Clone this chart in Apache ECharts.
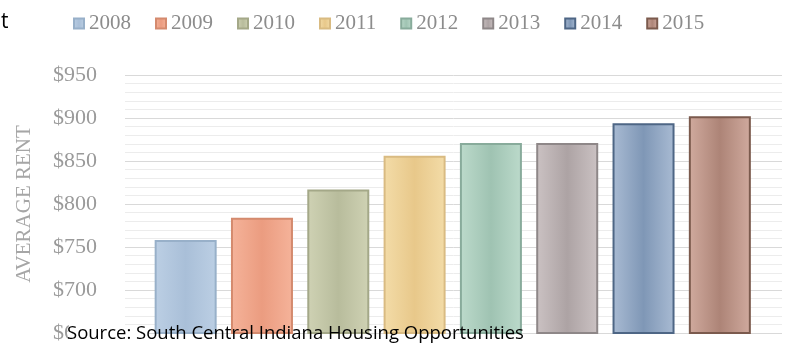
<!DOCTYPE html>
<html>
<head>
<meta charset="utf-8">
<script src="https://cdn.jsdelivr.net/npm/echarts@6/dist/echarts.min.js"></script>
<style>
html, body { margin: 0; padding: 0; background: #fff; }
#main { width: 786px; height: 345px; }
</style>
</head>
<body>
<div id="main"></div>
<script>
var years = ['2008', '2009', '2010', '2011', '2012', '2013', '2014', '2015'];
var rents = [758, 784, 817, 856, 871, 871, 894, 902];
var yTicks = [650, 700, 750, 800, 850, 900, 950];

// light edge / dark centre / border for each year
var barEdge = ['#bccfe4', '#f5b39a', '#cfd2b4', '#f3dca8', '#bcdacb', '#cbc2c3', '#a9bbd3', '#d0aa9e'];
var barMid = ['#a9bfd8', '#eb9c80', '#b8bc9c', '#e8c88a', '#9fc3b2', '#ada3a4', '#7f97b6', '#ad8477'];
var barLine = ['#98b0c9', '#d48a6e', '#a4a888', '#d9bb82', '#88ab9b', '#8e8788', '#4e6685', '#7b5a4d'];

var myChart = echarts.init(document.getElementById('main'));

var series = [];
for (var i = 0; i < years.length; i++) {
    var d = [];
    for (var j = 0; j < years.length; j++) {
        d.push(j == i ? rents[i] : '-');
    }
    series.push({
        name: years[i],
        type: 'bar',
        xAxisIndex: 1,
        yAxisIndex: 1,
        barWidth: 62,
        barGap: '-100%',
        data: d,
        itemStyle: {
            color: {
                type: 'linear', x: 0, y: 0, x2: 1, y2: 0,
                colorStops: [
                    { offset: 0, color: barEdge[i] },
                    { offset: 0.5, color: barMid[i] },
                    { offset: 1, color: barEdge[i] }
                ]
            },
            borderColor: barLine[i],
            borderWidth: 2
        }
    });
}

var option = {
    animation: false,
    legend: {
        data: years,
        left: 68,
        top: 8,
        icon: 'rect',
        itemWidth: 10,
        itemHeight: 10,
        itemGap: 24,
        textStyle: {
            fontFamily: 'Liberation Serif',
            fontSize: 21,
            color: '#8c8c8c'
        }
    },
    grid: [
        { left: 125, right: 4, top: 75, bottom: 12 },
        { left: 147.5, right: 28, top: 75, bottom: 12 }
    ],
    xAxis: [
        { type: 'category', gridIndex: 0, data: years, show: false },
        { type: 'category', gridIndex: 1, data: years, show: false }
    ],
    yAxis: [{
        type: 'value',
        gridIndex: 0,
        min: yTicks[0],
        max: yTicks[yTicks.length - 1],
        interval: 50,
        name: 'AVERAGE RENT',
        nameLocation: 'middle',
        nameGap: 90,
        nameTextStyle: {
            fontFamily: 'Liberation Serif',
            fontSize: 21,
            color: '#a6a6a6'
        },
        axisLine: { show: false },
        axisTick: { show: false },
        axisLabel: {
            margin: 28,
            fontFamily: 'Liberation Serif',
            fontSize: 22,
            color: '#9a9a9a',
            formatter: function (v) { return '$' + v; }
        },
        splitLine: { lineStyle: { color: '#d9d9d9', width: 1 } },
        minorTick: { show: false, splitNumber: 5 },
        minorSplitLine: { show: true, lineStyle: { color: '#ececec', width: 1 } }
    }, {
        type: 'value',
        gridIndex: 1,
        min: yTicks[0],
        max: yTicks[yTicks.length - 1],
        interval: 50,
        show: false,
        splitLine: { show: false }
    }],
    graphic: [
        {
            type: 'text', left: 1, top: 12, z: 20,
            style: { text: 't', fill: '#000', fontFamily: 'Open Sans', fontSize: 21 }
        },
        {
            type: 'rect', left: 69, top: 325, z: 19,
            shape: { width: 80, height: 20 },
            style: { fill: '#fff' }
        },
        {
            type: 'text', left: 67, top: 324, z: 20,
            style: {
                text: 'Source: South Central Indiana Housing Opportunities',
                fill: '#000',
                fontFamily: 'Open Sans',
                fontSize: 18.5
            }
        }
    ],
    series: series
};

myChart.setOption(option);
</script>
</body>
</html>
